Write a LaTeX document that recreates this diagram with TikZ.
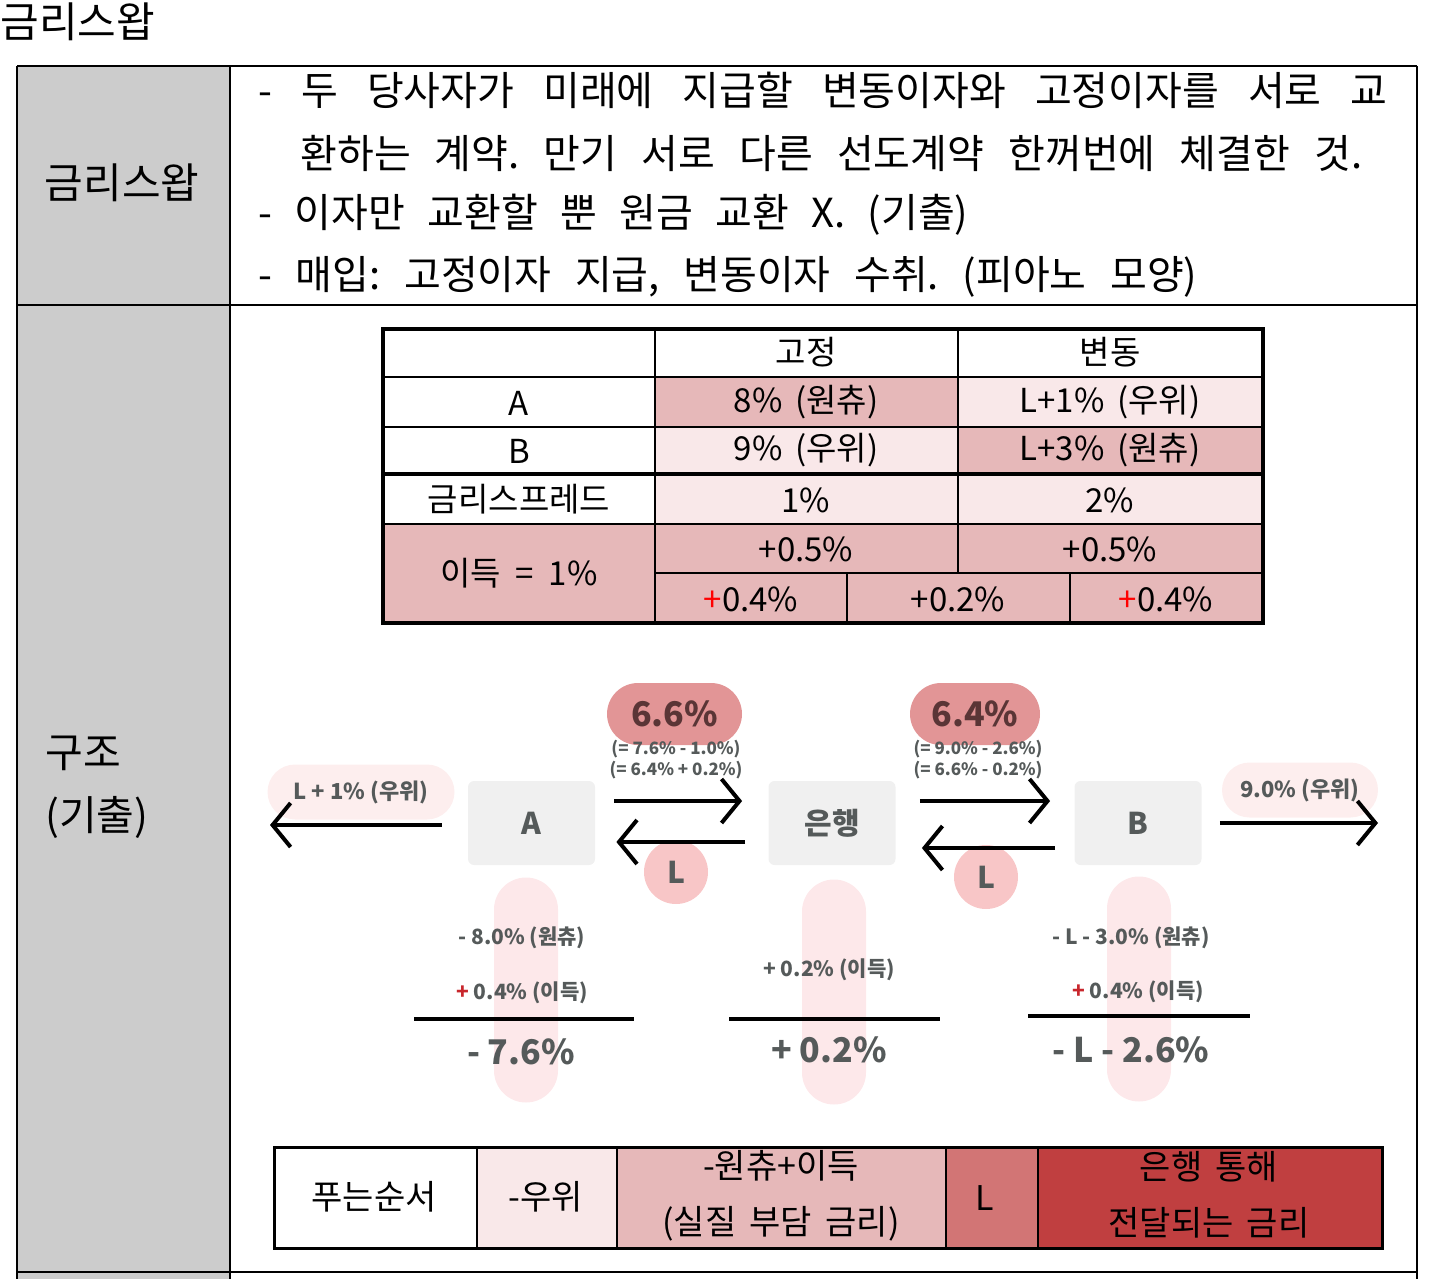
\documentclass[tikz,border=0pt]{standalone}
\usepackage{fontspec}
\setmainfont{Noto Sans CJK KR}
\usepackage{xcolor}
\usepackage{tikz}
\usetikzlibrary{arrows.meta}

\definecolor{cellgray}{HTML}{CCCCCC}
\definecolor{palepink}{HTML}{F9E8E9}
\definecolor{midpink}{HTML}{E6B8B9}
\definecolor{deeppink}{HTML}{E29596}
\definecolor{lpink}{HTML}{F8C6C7}
\definecolor{faintpink}{HTML}{FDEEEE}
\definecolor{stripepink}{HTML}{FDE8EA}
\definecolor{boxgray}{HTML}{F0F0F0}
\definecolor{txtgray}{HTML}{555A5A}
\definecolor{ratebrown}{HTML}{5A3536}
\definecolor{legL}{HTML}{D27575}
\definecolor{legred}{HTML}{C03F40}
\definecolor{plusred}{HTML}{C8262C}

\tikzset{
	party/.style={fill=boxgray, rounded corners=3pt, minimum width=63.5pt, minimum height=42pt, text=txtgray, font=\fontsize{15}{18}\selectfont\bfseries},
	flow/.style={line width=2pt, -{Straight Barb[length=9pt,width=22pt]}},
	ratepill/.style={fill=deeppink, rounded corners=15.5pt, minimum height=31pt, text=ratebrown, font=\fontsize{17}{20}\selectfont\bfseries},
	ratenote/.style={text=txtgray, inner sep=0, font=\fontsize{8.5}{10.5}\selectfont\bfseries},
	legpill/.style={fill=faintpink, rounded corners=13.75pt, minimum height=27.5pt, text=txtgray, font=\fontsize{11}{13}\selectfont\bfseries},
	lcircle/.style={circle, fill=lpink, minimum size=32pt, text=txtgray, font=\fontsize{15}{18}\selectfont\bfseries},
	stripe/.style={fill=stripepink, rounded corners=16pt, minimum width=32pt, minimum height=112.5pt},
	sumtxt/.style={text=txtgray, font=\fontsize{10.5}{13}\selectfont\bfseries},
	sumbig/.style={text=txtgray, font=\fontsize{17}{20}\selectfont\bfseries},
	sumrule/.style={line width=2pt},
	tabtxt/.style={font=\fontsize{16.5}{18}\selectfont},
	legtxt/.style={align=center, font=\fontsize{17}{28}\selectfont},
	bodyline/.style={anchor=west, inner sep=0, font=\fontsize{20}{20}\selectfont}
}

\begin{document}
\frenchspacing
\begin{tikzpicture}[x=0.5pt,y=-0.5pt]
\useasboundingbox (0,0) rectangle (1430,1279);

% outer frame
\fill[cellgray] (17,66) rectangle (230,1279);
\foreach \y in {66,305,1272}{
	\draw[line width=1.2pt] (17,\y)--(1417,\y);
}
\foreach \x in {17,230,1417}{
	\draw[line width=1.2pt] (\x,66)--(\x,1279);
}

\node[anchor=west, inner sep=0, font=\fontsize{21}{21}\selectfont] (title) at (0,22) {금리스왑};
\node[font=\fontsize{21}{21}\selectfont] (headone) at (122,183) {금리스왑};
\node[anchor=west, inner sep=0, align=left, font=\fontsize{20.5}{31.5}\selectfont] (headtwo) at (45,787) {구조\\(기출)};

\node[bodyline] (lineone) at (258,90) {\makebox[564.5pt][s]{- 두 당사자가 미래에 지급할 변동이자와 고정이자를 서로 교}};
\node[bodyline] (linetwo) at (300,153) {\makebox[531pt][s]{환하는 계약. 만기 서로 다른 선도계약 한꺼번에 체결한 것.}};
\node[bodyline] (linethree) at (258,215) {\makebox[355pt][s]{- 이자만 교환할 뿐 원금 교환 X. (기출)}};
\node[bodyline] (linefour) at (258,277) {\makebox[469.5pt][s]{- 매입: 고정이자 지급, 변동이자 수취. (피아노 모양)}};

% rate table
\fill[midpink] (655,377) rectangle (958,427);
\fill[palepink] (958,377) rectangle (1262,427);
\fill[palepink] (655,427) rectangle (958,474);
\fill[midpink] (958,427) rectangle (1262,474);
\fill[palepink] (655,474) rectangle (1262,524);
\fill[midpink] (384,524) rectangle (1262,622);

\foreach \y in {377,427,524}{
	\draw[line width=1pt] (384,\y)--(1262,\y);
}
\draw[line width=1pt] (655,573)--(1262,573);
\draw[line width=2.2pt] (384,474)--(1262,474);
\draw[line width=1pt] (655,329)--(655,622);
\draw[line width=1pt] (958,329)--(958,573);
\foreach \x in {847,1070}{
	\draw[line width=1pt] (\x,573)--(\x,622);
}
\draw[line width=2.2pt] (383,329) rectangle (1263,623);

\node[tabtxt] (hfix) at (806,352) {고정};
\node[tabtxt] (hflt) at (1110,352) {변동};
\node[tabtxt] (ra) at (519,403) {A};
\node[tabtxt] (rb) at (519,451) {B};
\node[tabtxt] (rspread) at (519,499) {금리스프레드};
\node[tabtxt] (rgain) at (519,573) {이득 \ = \ 1\%};
\node[tabtxt] (afixed) at (806,402) {8\% \,(원츄)};
\node[tabtxt] (afloat) at (1110,402) {L+1\% \,(우위)};
\node[tabtxt] (bfixed) at (806,450) {9\% \,(우위)};
\node[tabtxt] (bfloat) at (1110,450) {L+3\% \,(원츄)};
\node[tabtxt] (sfixed) at (806,500) {1\%};
\node[tabtxt] (sfloat) at (1110,500) {2\%};
\node[tabtxt] (gfixed) at (806,549) {+0.5\%};
\node[tabtxt] (gfloat) at (1110,549) {+0.5\%};
\node[tabtxt] (ga) at (751,599) {{\color{red}+}0.4\%};
\node[tabtxt] (gbank) at (958,599) {+0.2\%};
\node[tabtxt] (gb) at (1166,599) {{\color{red}+}0.4\%};

% swap flows
\node[stripe] (stra) at (526,990) {};
\node[stripe] (strbank) at (834,992) {};
\node[stripe] (strb) at (1139,989) {};

\node[party] (A) at (531.5,823) {A};
\node[party] (bank) at (832,823) {은행};
\node[party] (B) at (1138,823) {B};

\node[legpill, minimum width=93.5pt] (apay) at (361,792) {L + 1\% (우위)};
\node[legpill, minimum width=78pt] (bpay) at (1300,790) {9.0\% (우위)};
\coordinate (lend) at (270,825);
\coordinate (rend) at (1378,823);
\draw[flow, shorten <=13pt] ([yshift=-1pt]A.west)--(lend);
\draw[flow, shorten <=9pt] (B.east)--(rend);

\node[ratepill, minimum width=67.5pt] (rateone) at (674.5,714) {6.6\%};
\node[ratenote] at (676,749) (noteone) {(= 7.6\% - 1.0\%)};
\node[ratenote] at (676,770) (notetwo) {(= 6.4\% + 0.2\%)};
\node[ratepill, minimum width=65pt] (ratetwo) at (975,714) {6.4\%};
\node[ratenote] at (978,749) (notethree) {(= 9.0\% - 2.6\%)};
\node[ratenote] at (978,770) (notefour) {(= 6.6\% - 0.2\%)};

\node[lcircle] (Lone) at (676,872) {L};
\node[lcircle] (Ltwo) at (986,877) {L};

\draw[flow, shorten <=9.5pt, shorten >=13pt] ([yshift=11pt]A.east)--([yshift=11pt]bank.west);
\draw[flow, shorten <=11.5pt, shorten >=10.5pt] ([yshift=-9.5pt]bank.west)--([yshift=-9.5pt]A.east);
\draw[flow, shorten <=12pt, shorten >=12pt] ([yshift=11pt]bank.east)--([yshift=11pt]B.west);
\draw[flow, shorten <=9.5pt, shorten >=13pt] ([yshift=-12.5pt]B.west)--([yshift=-12.5pt]bank.east);

% net rates
\node[sumtxt] (aorig) at (522,938) {- 8.0\% (원츄)};
\node[sumtxt] (again) at (522,993) {{\color{plusred}+} 0.4\% (이득)};
\draw[sumrule] (414,1019)--(634,1019);
\node[sumbig] (anet) at (521,1052) {- 7.6\%};

\node[sumtxt] (bankgain) at (829,970) {+ 0.2\% (이득)};
\draw[sumrule] (729,1019)--(940,1019);
\node[sumbig] (banknet) at (829,1050) {+ 0.2\%};

\node[sumtxt] (borig) at (1131,938) {- L - 3.0\% (원츄)};
\node[sumtxt] (bgain) at (1138,992) {{\color{plusred}+} 0.4\% (이득)};
\draw[sumrule] (1028,1016)--(1250,1016);
\node[sumbig] (bnet) at (1131,1050) {- L - 2.6\%};

% legend
\fill[palepink] (477,1147) rectangle (617,1248);
\fill[midpink] (617,1147) rectangle (946,1248);
\fill[legL] (946,1147) rectangle (1038,1248);
\fill[legred] (1038,1147) rectangle (1382,1248);
\foreach \x in {477,617,946,1038}{
	\draw[line width=1pt] (\x,1147)--(\x,1248);
}
\draw[line width=1.5pt] (274,1147) rectangle (1382,1248);

\node[legtxt] (lorder) at (374,1197) {푸는순서};
\node[legtxt] (lwin) at (546,1197) {-우위};
\node[legtxt] (lreal) at (781,1196) {-원츄+이득\\(실질 \,부담 \,금리)};
\node[legtxt] (lL) at (985,1198) {L};
\node[legtxt] (lbank) at (1209,1195) {은행 \,통해\\전달되는 \,금리};

\end{tikzpicture}
\end{document}
